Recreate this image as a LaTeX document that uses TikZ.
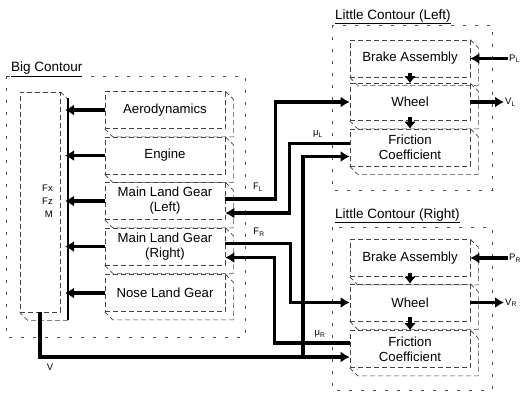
\documentclass[tikz,border=0pt]{standalone}
\usepackage{fontspec}
\setmainfont{Liberation Sans}
\usetikzlibrary{arrows.meta}

\begin{document}
\begin{tikzpicture}[x=1pt,y=-1pt,
    blk/.style={draw=black!75, dash pattern=on 5pt off 3pt, line width=0.6pt,
      minimum width=120pt, minimum height=37pt, inner sep=1pt, align=center,
      font=\fontsize{13.2}{15}\selectfont},
    ghost/.style={draw=black!75, dash pattern=on 5pt off 3pt, line width=0.6pt},
    frame/.style={draw=black!70, dash pattern=on 3pt off 9pt, line width=0.6pt},
    title/.style={anchor=base west, inner sep=0pt, font=\fontsize{13.5}{15}\selectfont},
    lbl/.style={inner sep=1pt, font=\fontsize{9.5}{13}\selectfont},
    sig/.style={line width=3.2pt, -{Latex[length=9pt,width=11pt]}},
    tick/.style={line width=3.2pt, -{Latex[length=7pt,width=12pt]}},
    bus/.style={line width=1.6pt}]
    \useasboundingbox (0,0) rectangle (523,392);

    % contours
    \draw[frame] (6,76) rectangle (245,337);
    \draw[frame] (332,25) rectangle (492,190);
    \draw[frame] (332,227) rectangle (492,390);
    \node[title] (bigT) at (11,71.5) {\underline{Big Contour}};
    \node[title] (litL) at (335,19) {\underline{Little Contour (Left)}};
    \node[title] (litR) at (335,218) {\underline{Little Contour (Right)}};

    % big contour blocks
    \node[blk] (aero) at (165,110) {Aerodynamics};
    \node[blk] (engine) at (165,155.5) {Engine};
    \node[blk] (mlgl) at (165,201) {Main Land Gear\\(Left)};
    \node[blk] (mlgr) at (165,246.5) {Main Land Gear\\(Right)};
    \node[blk] (nlg) at (165,293) {Nose Land Gear};
    \node[blk, minimum width=40pt, minimum height=220pt] (body) at (40,202) {};

    % little contour blocks
    \node[blk] (brkL) at (410,58.5) {Brake Assembly};
    \node[blk] (whlL) at (410,102) {Wheel};
    \node[blk] (frcL) at (410,147.5) {Friction\\Coefficient};
    \node[blk] (brkR) at (410,258) {Brake Assembly};
    \node[blk] (whlR) at (410,302.5) {Wheel};
    \node[blk] (frcR) at (410,349) {Friction\\Coefficient};

    % 3d look
    \foreach \b in {aero,engine,mlgl,mlgr,nlg,body,brkL,whlL,frcL,brkR,whlR,frcR}
      \draw[ghost] (\b.north east) -- ++(8,8) |- ([xshift=8pt,yshift=-8pt]\b.south west) -- (\b.south west);

    % force bus
    \coordinate (busT) at (68,98);
    \coordinate (busB) at (68,320);
    \draw[bus] (busT) -- (busB);
    \foreach \b in {aero,engine,mlgl,mlgr,nlg}
      \draw[sig] (\b.west) -- ([xshift=-3pt]\b.west -| busT);
    \node[lbl, align=right, anchor=east] (forces) at (54,201) {Fx\\Fz\\M};

    % velocity
    \draw[sig] (body.south) |- ([yshift=-8pt]frcR.west);
    \coordinate (vJ) at (303,357);
    \draw[sig] (vJ) |- ([yshift=-9pt]frcL.west);
    \node[lbl] (vLab) at (50,367) {V};

    % gear <-> little contours
    \draw[sig] ([yshift=2pt]mlgl.east) -- ++(50,0) |- (whlL.west);
    \draw[sig] ([yshift=4pt]frcL.west) -- ++(-60,0) |- ([yshift=-12pt]mlgl.east);
    \draw[sig] ([yshift=3pt]mlgr.east) -- ++(65,0) |- (whlR.west);
    \draw[sig] ([yshift=6pt]frcR.west) -- ++(-75,0) |- ([yshift=-11pt]mlgr.east);
    \node[lbl] (fL) at (258,187) {F\textsubscript{L}};
    \node[lbl] (muL) at (318,134) {μ\textsubscript{L}};
    \node[lbl] (fR) at (259,232) {F\textsubscript{R}};
    \node[lbl] (muR) at (320,334) {μ\textsubscript{R}};

    % inside little contours
    \draw[tick] ([yshift=4pt]brkL.south) -- (whlL.north);
    \draw[tick] ([yshift=4pt]whlL.south) -- (frcL.north);
    \draw[tick] ([yshift=4pt]brkR.south) -- (whlR.north);
    \draw[tick] ([yshift=4pt]whlR.south) -- (frcR.north);

    % pedal and wheel speed
    \coordinate (pL) at (508,58.5);
    \coordinate (pR) at (508,258);
    \coordinate (vL) at (504,102);
    \coordinate (vR) at (504,302.5);
    \draw[sig] (pL) -- (brkL.east);
    \draw[sig] (pR) -- (brkR.east);
    \draw[sig] (whlL.east) -- (vL);
    \draw[sig] (whlR.east) -- (vR);
    \node[lbl, anchor=west] (pLab) at (pL) {P\textsubscript{L}};
    \node[lbl, anchor=west] (pRab) at (pR) {P\textsubscript{R}};
    \node[lbl, anchor=west] (vLab2) at (vL) {V\textsubscript{L}};
    \node[lbl, anchor=west] (vRab) at (vR) {V\textsubscript{R}};
\end{tikzpicture}
\end{document}
